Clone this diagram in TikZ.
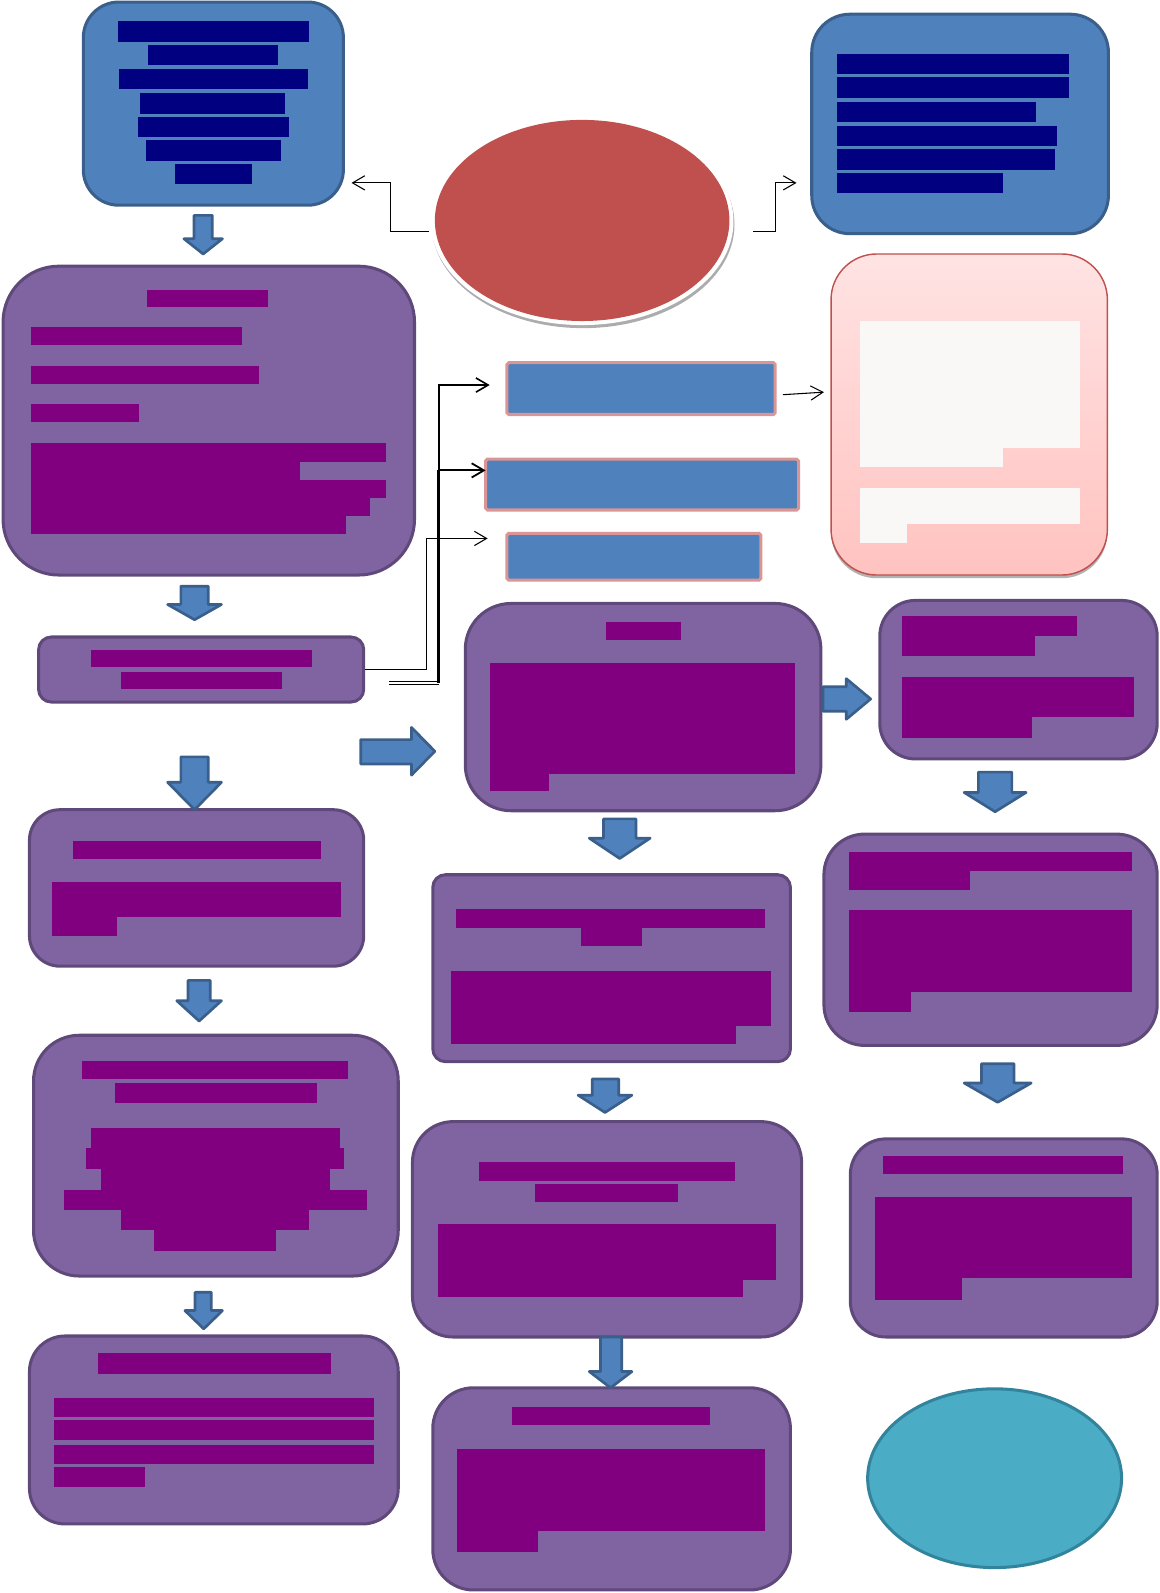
\documentclass[tikz,border=0pt]{standalone}
\usepackage{tikz}
\usetikzlibrary{fit,shapes.geometric,shadows,calc,arrows.meta}

\definecolor{boxblue}{HTML}{4F81BD}
\definecolor{boxblueline}{HTML}{3A5F8B}
\definecolor{navybar}{HTML}{000080}
\definecolor{boxpurple}{HTML}{8064A2}
\definecolor{boxpurpleline}{HTML}{5F497A}
\definecolor{barpurple}{HTML}{800080}
\definecolor{corered}{HTML}{C0504D}
\definecolor{pinktop}{HTML}{FFE3E3}
\definecolor{pinkbottom}{HTML}{FFC3C0}
\definecolor{paper}{HTML}{F9F8F6}
\definecolor{rimpink}{HTML}{D99694}
\definecolor{endteal}{HTML}{4BACC6}
\definecolor{endtealline}{HTML}{31849B}

\tikzset{
  bluebox/.style={draw=boxblueline, fill=boxblue, line width=1.7pt, inner sep=0pt},
  purplebox/.style={draw=boxpurpleline, fill=boxpurple, line width=1.7pt, inner sep=0pt},
  blueslab/.style={draw=rimpink, fill=boxblue, line width=1.7pt, inner sep=0pt, rounded corners=1pt},
  link/.style={draw=black, line width=0.6pt, -{Straight Barb[length=2.4mm,width=2.8mm]}},
  arrowshape/.style={draw=boxblueline, fill=boxblue, line width=1.5pt, line join=round},
}

% filled bars standing for the lines of text
\newcommand\bars[2]{\foreach \xa/\ya/\xb/\yb in {#2} \fill[#1] (\xa,\ya) rectangle (\xb,\yb);}
% block arrows
\newcommand\dnarrow[7]{\path[arrowshape] (#1,#5) -- (#2,#5) -- (#2,#6) -- (#4,#6) -- ({(#3+#4)/2},#7) -- (#3,#6) -- (#1,#6) -- cycle;}
\newcommand\rtarrow[7]{\path[arrowshape] (#1,#4) -- (#2,#4) -- (#2,#6) -- (#3,{(#6+#7)/2}) -- (#2,#7) -- (#2,#5) -- (#1,#5) -- cycle;}

\begin{document}
\begin{tikzpicture}[x=0.02cm,y=-0.02cm]
\useasboundingbox (0,0) rectangle (1141,1568);

% top row
\node[bluebox, rounded corners=0.7cm, fit={(82,2) (338,202)}] (tlbox) {};
\bars{navybar}{116/21/304/41, 146/44/274/64, 117/68/303/88, 138/92/281/112, 136/115/284/135, 144/138/277/158, 172/161/248/181}

\node[bluebox, rounded corners=0.75cm, fit={(799,14) (1091,230)}] (trbox) {};
\bars{navybar}{824/53/1052/73, 824/76/1052/96, 824/100/1020/120, 824/124/1040/144, 824/147/1038/167, 824/170/987/190}

\node[ellipse, fill=gray!65, minimum width=5.96cm, minimum height=4.08cm] at (574,221) {};
\node[ellipse, fill=white, minimum width=5.96cm, minimum height=4.08cm] at (573,218) {};
\node[ellipse, fill=corered, minimum width=5.8cm, minimum height=3.96cm] (core) at (573,217) {};

\node[rounded corners=0.9cm, draw=corered, line width=0.8pt, top color=pinktop, bottom color=pinkbottom,
  drop shadow={shadow xshift=0pt, shadow yshift=-1.8pt, fill=gray!60, opacity=1},
  inner sep=0pt, fit={(818,250) (1090,566)}] (notebox) {};
\bars{paper}{846/316/1063/441, 846/441/987/460, 846/480/1063/516, 846/516/893/534}

% left column
\node[purplebox, rounded corners=1.1cm, fit={(3,262) (408,566)}] (intro) {};
\bars{barpurple}{145/285/264/302, 31/322/238/340, 31/360/255/378, 31/398/137/415, 31/436/380/455, 31/455/295/472, 31/472/380/490, 31/490/364/508, 31/508/341/526}

\node[purplebox, rounded corners=0.25cm, fit={(38,627) (358,691)}] (split) {};
\bars{barpurple}{90/640/307/657, 119/661/278/678}

\node[purplebox, rounded corners=0.6cm, fit={(29,797) (358,951)}] (leftA) {};
\bars{barpurple}{72/828/316/846, 51/868/336/903, 51/903/115/921}

\node[purplebox, rounded corners=0.9cm, fit={(33,1019) (392,1256)}] (leftB) {};
\bars{barpurple}{81/1044/343/1062, 113/1066/312/1086, 90/1110/335/1130, 85/1130/339/1151, 99/1151/325/1171, 63/1171/361/1191, 119/1191/304/1211, 152/1211/272/1231}

\node[purplebox, rounded corners=0.7cm, fit={(29,1315) (392,1500)}] (leftC) {};
\bars{barpurple}{96/1332/326/1352, 53/1376/368/1395, 53/1398/368/1417, 53/1422/368/1441, 53/1444/143/1464}

% middle column
\node[blueslab, fit={(499,357) (763,408)}] (slabA) {};
\node[blueslab, fit={(478,452) (786,502)}] (slabB) {};
\node[blueslab, fit={(499,525) (749,571)}] (slabC) {};

\node[purplebox, rounded corners=0.9cm, fit={(458,594) (808,798)}] (hub) {};
\bars{barpurple}{596/612/670/630, 482/653/783/762, 482/762/540/779}

\node[purplebox, rounded corners=0.25cm, fit={(426,861) (778,1045)}] (midA) {};
\bars{barpurple}{449/895/753/913, 572/913/632/931, 444/956/759/1010, 444/1010/724/1028}

\node[purplebox, rounded corners=0.8cm, fit={(406,1104) (789,1316)}] (midB) {};
\bars{barpurple}{471/1144/723/1162, 527/1165/667/1183, 431/1205/764/1260, 431/1260/731/1277}

\node[purplebox, rounded corners=0.8cm, fit={(426,1366) (778,1565)}] (midC) {};
\bars{barpurple}{504/1385/699/1403, 450/1426/753/1507, 450/1507/530/1528}

% right column
\node[purplebox, rounded corners=0.7cm, fit={(866,591) (1139,747)}] (rightA) {};
\bars{barpurple}{888/606/1060/626, 888/626/1019/646, 888/666/1116/706, 888/706/1016/726}

\node[purplebox, rounded corners=0.8cm, fit={(811,821) (1139,1029)}] (rightB) {};
\bars{barpurple}{836/839/1114/857, 836/857/955/876, 836/896/1114/976, 836/976/897/996}

\node[purplebox, rounded corners=0.7cm, fit={(837,1121) (1139,1316)}] (rightC) {};
\bars{barpurple}{869/1138/1105/1156, 861/1178/1114/1258, 861/1258/947/1280}

\node[ellipse, draw=endtealline, fill=endteal, line width=1.7pt, minimum width=5cm, minimum height=3.52cm] (finish) at (979,1455) {};

% block arrows
\dnarrow{191}{209}{181}{219}{212}{235}{250}
\dnarrow{178}{205}{165}{218}{577}{595}{610}
\dnarrow{178}{205}{165}{218}{745}{770}{797}
\dnarrow{185}{207}{174}{218}{965}{985}{1005}
\dnarrow{192}{208}{182}{219}{1272}{1290}{1308}
\dnarrow{594}{626}{580}{640}{806}{825}{845}
\dnarrow{583}{609}{569}{622}{1062}{1078}{1095}
\dnarrow{591}{612}{580}{622}{1316}{1350}{1366}
\dnarrow{963}{996}{949}{1010}{760}{780}{799}
\dnarrow{966}{998}{949}{1015}{1047}{1066}{1085}
\rtarrow{355}{405}{428}{728}{752}{716}{763}
\rtarrow{810}{833}{857}{676}{700}{668}{708}

% thin connectors
\coordinate (tlIn) at (346,180);
\coordinate (trIn) at (784,180);
\coordinate (noteIn) at (811,386);
\coordinate (tipA) at (482,379);
\coordinate (tipB) at (478,463);
\coordinate (tipC) at (480,530);
\coordinate (dbl) at (383,672);
\coordinate (fork) at (432,672);

\draw[link] ($(core.west)+(-5,11)$) -| ($(tlIn)+(38,0)$) -- (tlIn);
\draw[link] ($(core.east)+(23,11)$) -| ($(trIn)+(-21,0)$) -- (trIn);
\draw[link] ($(slabA.east)+(6,6)$) -- (noteIn);
\draw[link] (split.east) -| ($(tipC)+(-60,0)$) -- (tipC);
\draw[line width=0.5pt, double distance=1.1pt] (dbl) -- (fork);
\draw[line width=1.6pt] (fork) -- (fork |- tipB);
\draw[link, line width=1pt] (fork |- tipB) -- (tipB);
\draw[link, line width=0.9pt] (fork |- tipB) |- (tipA);
\end{tikzpicture}
\end{document}
